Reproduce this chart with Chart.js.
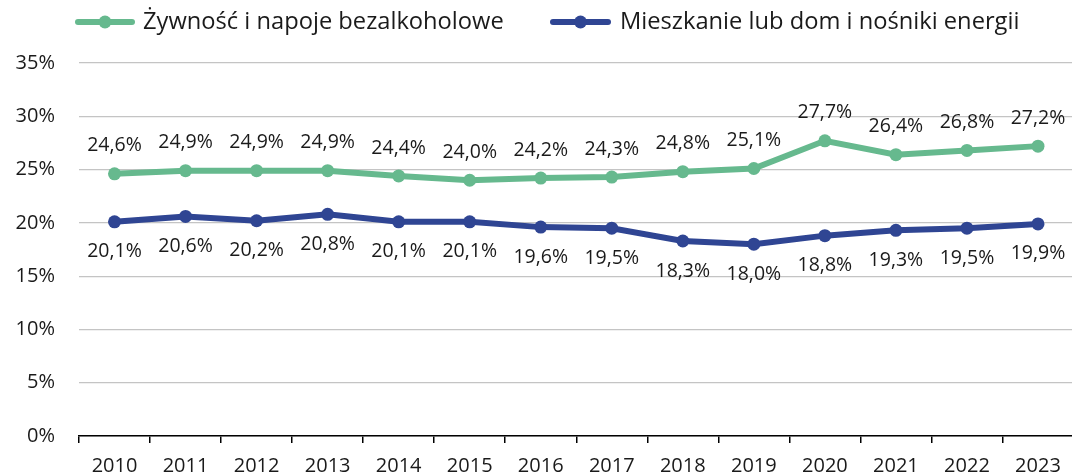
<!DOCTYPE html>
<html>
<head>
<meta charset="utf-8">
<script src="https://cdn.jsdelivr.net/npm/chart.js@4"></script>
<style>
  html, body { margin: 0; padding: 0; background: #fff; overflow: hidden; }
</style>
</head>
<body>
<canvas id="chart" width="1080" height="476"></canvas>
<script>
var lata = ["2010","2011","2012","2013","2014","2015","2016","2017","2018","2019","2020","2021","2022","2023"];
var zywnosc = [24.6, 24.9, 24.9, 24.9, 24.4, 24.0, 24.2, 24.3, 24.8, 25.1, 27.7, 26.4, 26.8, 27.2];
var mieszkanie = [20.1, 20.6, 20.2, 20.8, 20.1, 20.1, 19.6, 19.5, 18.3, 18.0, 18.8, 19.3, 19.5, 19.9];
var osY = [0, 5, 10, 15, 20, 25, 30, 35];

var ZIELONY = "#66b98e";
var NIEBIESKI = "#2f4593";
var TEKST = "#1a1a1a";
var FONT = "'Open Sans', 'DejaVu Sans', sans-serif";

function formatPct(v){ return v.toFixed(1).replace(".", ",") + "%"; }

// etykiety danych: nad zielona, pod niebieska
var etykiety = {
  id: "etykiety",
  afterDatasetsDraw: function(chart){
    var ctx = chart.ctx;
    ctx.save();
    ctx.font = "19.5px " + FONT;
    ctx.fillStyle = TEKST;
    ctx.textAlign = "center";
    ctx.textBaseline = "middle";
    chart.data.datasets.forEach(function(ds, i){
      var meta = chart.getDatasetMeta(i);
      var dy = i === 0 ? -28 : 30;
      meta.data.forEach(function(pt, j){
        ctx.fillText(formatPct(ds.data[j]), pt.x, pt.y + dy);
      });
    });
    ctx.restore();
  }
};

// legenda rysowana recznie (linia z kropka + tekst)
var legenda = {
  id: "legenda",
  afterDraw: function(chart){
    var ctx = chart.ctx;
    var pozycje = [{ x1: 78, x2: 132, tx: 143 }, { x1: 553, x2: 608, tx: 620 }];
    ctx.save();
    chart.data.datasets.forEach(function(ds, i){
      var p = pozycje[i], y = 22;
      ctx.strokeStyle = ds.borderColor;
      ctx.lineWidth = 6;
      ctx.lineCap = "round";
      ctx.beginPath(); ctx.moveTo(p.x1, y); ctx.lineTo(p.x2, y); ctx.stroke();
      ctx.fillStyle = ds.borderColor;
      ctx.beginPath(); ctx.arc((p.x1 + p.x2) / 2, y, 6.5, 0, Math.PI * 2); ctx.fill();
      ctx.font = "23.7px " + FONT;
      ctx.fillStyle = TEKST;
      ctx.textAlign = "left";
      ctx.textBaseline = "middle";
      ctx.fillText(ds.label, p.tx, y);
    });
    ctx.restore();
  }
};

new Chart(document.getElementById("chart"), {
  type: "line",
  data: {
    labels: lata,
    datasets: [
      { label: "Żywność i napoje bezalkoholowe", data: zywnosc, borderColor: ZIELONY, backgroundColor: ZIELONY,
        borderWidth: 6, pointRadius: 6.5, pointBackgroundColor: ZIELONY, pointBorderWidth: 0, tension: 0 },
      { label: "Mieszkanie lub dom i nośniki energii", data: mieszkanie, borderColor: NIEBIESKI, backgroundColor: NIEBIESKI,
        borderWidth: 6, pointRadius: 6.5, pointBackgroundColor: NIEBIESKI, pointBorderWidth: 0, tension: 0 }
    ]
  },
  options: {
    responsive: false,
    animation: false,
    layout: { padding: { left: 0, right: 0, top: 63, bottom: 0 } },
    plugins: {
      tooltip: { enabled: false },
      legend: { display: false }
    },
    scales: {
      x: {
        offset: true,
        afterFit: function(s){ s.paddingLeft = 0; s.paddingRight = 0; s.height = 40; },
        grid: { offset: true, drawOnChartArea: false, drawTicks: true, tickLength: 7, color: "#000", lineWidth: 1.5 },
        border: { display: true, color: "#000", width: 1.5 },
        ticks: { font: { family: FONT, size: 20 }, color: TEKST, padding: 11, maxRotation: 0 }
      },
      y: {
        min: 0, max: 35,
        afterFit: function(s){ s.width = 79; s.paddingTop = 0; s.paddingBottom = 0; },
        afterBuildTicks: function(s){ s.ticks = osY.map(function(v){ return { value: v }; }); },
        grid: { color: "#c4c4c4", lineWidth: 1.2, drawTicks: false },
        border: { display: false },
        ticks: { font: { family: FONT, size: 20 }, color: TEKST, padding: 24,
          callback: function(v){ return v + "%"; } }
      }
    }
  },
  plugins: [etykiety, legenda]
});
</script>
</body>
</html>
